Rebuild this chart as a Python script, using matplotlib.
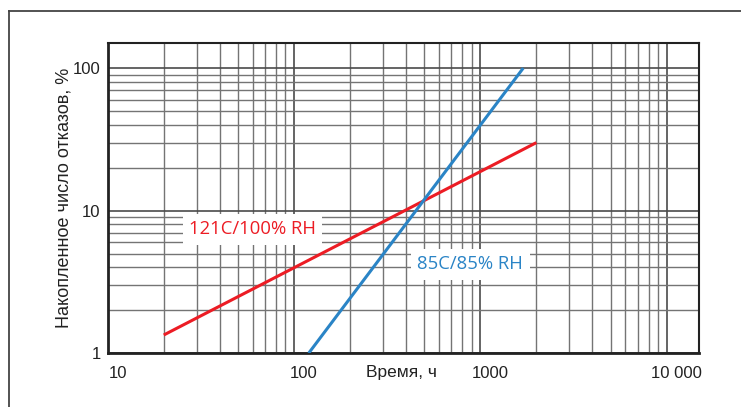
import matplotlib
matplotlib.use("Agg")
import matplotlib.pyplot as plt
from matplotlib.ticker import NullFormatter, FixedLocator
from matplotlib.transforms import ScaledTranslation
from matplotlib.lines import Line2D

# ---- data (log-log, two straight failure lines) ----
red_x = [20, 2000]
red_y = [1.34, 30]
blue_x = [120, 1700]
blue_y = [1, 100]
red_name = "121C/100% RH"
blue_name = "85C/85% RH"
x_ticks = [10, 100, 1000, 10000]
x_ticklabels = ["10", "100", "1000", "10 000"]
y_ticks = [1, 10, 100]
y_ticklabels = ["1", "10", "100"]
x_label = "Время, ч"
y_label = "Накопленное число отказов, %"

RED, BLUE = "#ec1c24", "#2a84c6"
plt.rcParams['font.family'] = ['Liberation Sans', 'DejaVu Sans']

fig = plt.figure(figsize=(7.41, 4.07), dpi=100)
ax = fig.add_axes([0.1453, 0.1324, 0.7986, 0.7619])
ax.set_xscale('log'); ax.set_yscale('log')
ax.set_xlim(10, 15000); ax.set_ylim(1, 150)

# grid: darker decades, lighter intermediate lines
minor_x = [m * 10**e for e in range(1, 4) for m in range(2, 10)]
minor_y = [m * 10**e for e in range(0, 2) for m in range(2, 10)]
ax.xaxis.set_major_locator(FixedLocator(x_ticks))
ax.yaxis.set_major_locator(FixedLocator(y_ticks))
ax.xaxis.set_minor_locator(FixedLocator(minor_x))
ax.yaxis.set_minor_locator(FixedLocator(minor_y))
ax.xaxis.set_minor_formatter(NullFormatter()); ax.yaxis.set_minor_formatter(NullFormatter())
ax.set_xticklabels(x_ticklabels); ax.set_yticklabels(y_ticklabels)
ax.grid(True, which='major', color='#4a4a4a', lw=1.2)
ax.grid(True, which='minor', color='#747474', lw=1.0)
ax.set_axisbelow(True)
ax.tick_params(which='both', length=0, labelsize=12, colors='#222222')
ax.tick_params(axis='x', pad=9)
ax.tick_params(axis='y', pad=5)
for lab in ax.get_xticklabels():
    lab.set_transform(lab.get_transform() + ScaledTranslation(0.1, 0, fig.dpi_scale_trans))

for s in ax.spines.values():
    s.set_color('#222222'); s.set_linewidth(1.5)
ax.spines['left'].set_linewidth(2.0); ax.spines['bottom'].set_linewidth(2.0)

ax.plot(red_x, red_y, color=RED, lw=2.2, solid_capstyle='butt', zorder=3)
ax.plot(blue_x, blue_y, color=BLUE, lw=2.2, solid_capstyle='butt', zorder=3)

box = dict(boxstyle='square,pad=0.35', fc='white', ec='none')
ax.text(0.2447, 0.400, red_name, transform=ax.transAxes, color=RED, fontsize=13.3,
        family=['Open Sans', 'DejaVu Sans'], ha='center', va='center', bbox=box, zorder=4)
ax.text(0.613, 0.287, blue_name, transform=ax.transAxes, color=BLUE, fontsize=13.3,
        family=['Open Sans', 'DejaVu Sans'], ha='center', va='center', bbox=box, zorder=4)

ax.set_ylabel(y_label, fontsize=13, labelpad=0, color='#222222')
fig.text(402 / 741, 1 - 373 / 407, x_label, fontsize=12.5, ha='center', va='center', color='#222222')

# outer frame (left and top edges only visible)
fig.add_artist(Line2D([8.5 / 741, 8.5 / 741], [0, 1 - 11 / 407], transform=fig.transFigure,
                      color='#444444', lw=1.3))
fig.add_artist(Line2D([8.5 / 741, 1], [1 - 11 / 407, 1 - 11 / 407], transform=fig.transFigure,
                      color='#444444', lw=1.3))

fig.savefig("out.png", dpi=100)
